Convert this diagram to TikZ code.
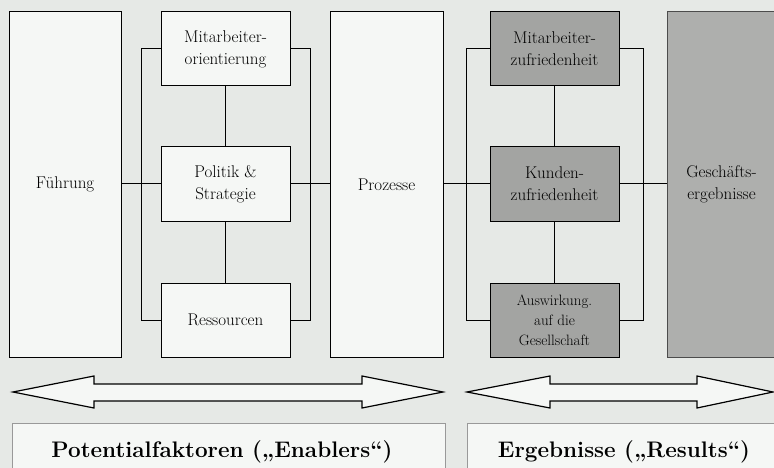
\documentclass[tikz,border=0pt]{standalone}
\usepackage{fontspec}
\definecolor{paper}{HTML}{E6E9E6}
\definecolor{boxfill}{HTML}{F5F7F5}
\definecolor{darkfill}{HTML}{A3A4A2}
\definecolor{resfill}{HTML}{AEAFAD}
\begin{document}
\begin{tikzpicture}[x=1pt,y=-1pt,line width=1pt,
    font=\fontsize{17}{22}\selectfont,
    crit/.style={draw,fill=boxfill,align=center,inner sep=0pt},
    tall/.style={crit,minimum width=112,minimum height=345},
    small/.style={crit,minimum width=129,minimum height=74},
    res/.style={fill=darkfill},
    bigarrow/.style={draw,fill=boxfill,line width=1.2pt,line join=miter},
    bar/.style={draw=black!40,fill=boxfill,line width=.8pt},
    title/.style={anchor=base,font=\fontsize{22.5}{26}\selectfont\bfseries}]
    \useasboundingbox (0,0) rectangle (774,468);
    \clip (0,0) rectangle (774,468);
    \fill[paper] (0,0) rectangle (774,468);
    % enablers
    \node[tall] (fuehr) at (65,184.5) {Führung};
    \node[small] (mao) at (225.5,49) {Mitarbeiter-\\orientierung};
    \node[small] (pol) at (225.5,184) {Politik \&\\Strategie};
    \node[small] (ress) at (225.5,320) {Ressourcen};
    \node[tall,minimum width=113] (proz) at (386.5,184.5) {Prozesse};
    % results
    \node[small,res] (maz) at (554.5,49) {Mitarbeiter-\\zufriedenheit};
    \node[small,res] (kuz) at (554.5,184) {Kunden-\\zufriedenheit};
    \node[small,res,font=\fontsize{15}{20}\selectfont] (ges) at (554.5,320) {Auswirkung.\\auf die\\Gesellschaft};
    \node[tall,fill=resfill,draw=black!70,minimum width=109] (gerg) at (721.5,184.5) {Geschäfts-\\ergebnisse};
    % connections
    \draw (pol.west -| fuehr.east) -- (pol.west) (pol.east) -- (pol.east -| proz.west);
    \draw (kuz.west -| proz.east) -- (kuz.west) (kuz.east) -- (kuz.east -| gerg.west);
    \draw (mao.south) -- (pol.north) (pol.south) -- (ress.north);
    \draw (maz.south) -- (kuz.north) (kuz.south) -- (ges.north);
    \draw (mao.west) -- ++(-19,0) |- (ress.west);
    \draw (mao.east) -- ++(20,0) |- (ress.east);
    \draw (maz.west) -- ++(-23,0) |- (ges.west);
    \draw (maz.east) -- ++(24,0) |- (ges.east);
    % arrows and captions
    \draw[bigarrow] (13,392) -- (94,376) -- (94,384) -- (362,384) -- (362,376) -- (443,392)
        -- (362,408) -- (362,401) -- (94,401) -- (94,408) -- cycle;
    \draw[bigarrow] (467,392) -- (550,376) -- (550,384) -- (697,384) -- (697,376) -- (773,392)
        -- (697,408) -- (697,401) -- (550,401) -- (550,408) -- cycle;
    \draw[bar] (12,423) rectangle (445,485);
    \draw[bar] (467,423) rectangle (790,485);
    \node[title] (enab) at (222,457) {Potentialfaktoren („Enablers“)};
    \node[title] (resu) at (624,457) {Ergebnisse („Results“)};
\end{tikzpicture}
\end{document}
